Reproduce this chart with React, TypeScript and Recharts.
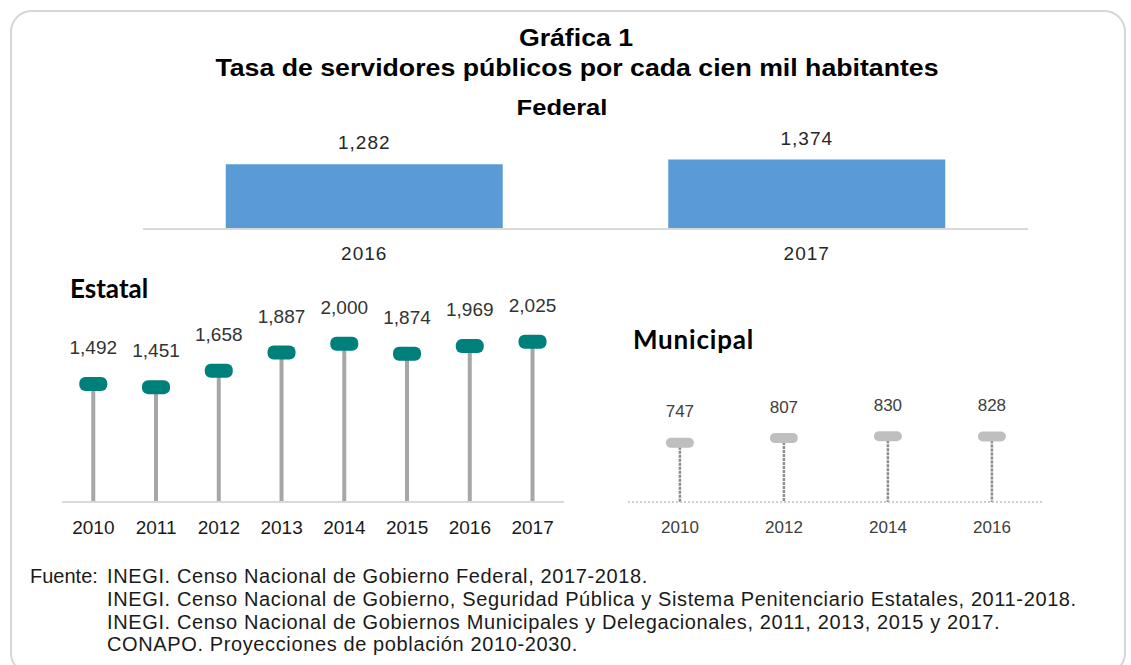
import React from 'react';
import { BarChart, Bar, XAxis, YAxis, LabelList } from 'recharts';

// Federal
const federalYears = ['2016', '2017'];
const federalValues = [1282, 1374];

// Estatal
const estatalYears = ['2010', '2011', '2012', '2013', '2014', '2015', '2016', '2017'];
const estatalValues = [1492, 1451, 1658, 1887, 2000, 1874, 1969, 2025];

// Municipal
const municipalYears = ['2010', '2012', '2014', '2016'];
const municipalValues = [747, 807, 830, 828];

const fuente = [
  'INEGI. Censo Nacional de Gobierno Federal, 2017-2018.',
  'INEGI. Censo Nacional de Gobierno, Seguridad Pública y Sistema Penitenciario Estatales, 2011-2018.',
  'INEGI. Censo Nacional de Gobiernos Municipales y Delegacionales, 2011, 2013, 2015 y 2017.',
  'CONAPO. Proyecciones de población 2010-2030.',
];

const federalData = federalYears.map((year, i) => ({ year, value: federalValues[i] }));
const estatalData = estatalYears.map((year, i) => ({ year, value: estatalValues[i] }));
const municipalData = municipalYears.map((year, i) => ({ year, value: municipalValues[i] }));

const ARIAL = '"Liberation Sans", Arial, sans-serif';
const fmt = (v: number) => v.toLocaleString('en-US');

const EstatalShape = (props: any) => {
  const { x, y, width, height } = props;
  const cx = x + width / 2;
  return (
    <g>
      <line x1={cx} y1={y} x2={cx} y2={y + height} stroke="#a6a6a6" strokeWidth={4} />
      <rect x={cx - 14} y={y - 7} width={28} height={14} rx={6} fill="#00807a" />
    </g>
  );
};

const MunicipalShape = (props: any) => {
  const { x, y, width, height } = props;
  const cx = x + width / 2;
  return (
    <g>
      <line x1={cx} y1={y} x2={cx} y2={y + height} stroke="#8c8c8c" strokeWidth={2.5} strokeDasharray="3 1" />
      <rect x={cx - 14} y={y - 5} width={28} height={10} rx={5} fill="#bfbfbf" />
    </g>
  );
};

const makeLabel = (offset: number, size: number, color: string, spacing = 0) => (props: any) => {
  const { x, y, width, value } = props;
  return (
    <text x={x + width / 2} y={y - offset} textAnchor="middle" dominantBaseline="middle"
      fontSize={size} fill={color} fontFamily={ARIAL} letterSpacing={spacing}>
      {fmt(value)}
    </text>
  );
};

const heading: React.CSSProperties = {
  position: 'absolute', fontFamily: ARIAL, fontWeight: 'bold', color: '#000', whiteSpace: 'nowrap', lineHeight: 1,
};

const stretched = (text: string, top: number, size: number, cx: number) => (
  <div style={{ ...heading, left: cx - 500, width: 1000, top, fontSize: size, textAlign: 'center', transform: 'scaleX(1.16)', transformOrigin: `500px 0` }}>
    {text}
  </div>
);

export default function App() {
  return (
    <div style={{ position: 'absolute', left: 0, top: 0, width: 1131, height: 665, background: '#fff', overflow: 'hidden' }}>
      <div style={{ position: 'absolute', left: 10, top: 10, width: 1116, height: 665, border: '2px solid #d6d6d6', borderRadius: 22, boxSizing: 'border-box' }} />

      {stretched('Gráfica 1', 27, 23, 576)}
      {stretched('Tasa de servidores públicos por cada cien mil habitantes', 57, 23, 577)}
      {stretched('Federal', 97, 22, 562)}

      <div style={{ position: 'absolute', left: 143, top: 128 }}>
        <BarChart width={885} height={142} data={federalData} margin={{ top: 0, right: 0, bottom: 0, left: 0 }} barCategoryGap="18.7%">
          <XAxis dataKey="year" height={41} axisLine={{ stroke: '#d9d9d9', strokeWidth: 2 }} tickLine={false}
            tick={{ fontSize: 19, fill: '#262626', fontFamily: ARIAL, letterSpacing: 1 }} tickMargin={12} />
          <YAxis hide domain={[0, 2000]} />
          <Bar dataKey="value" fill="#5b9bd5" isAnimationActive={false}>
            <LabelList dataKey="value" content={makeLabel(20, 19, '#262626', 1)} />
          </Bar>
        </BarChart>
      </div>

      <div style={{ ...heading, left: 70, top: 275, fontSize: 26, fontFamily: 'Lato, sans-serif' }}>Estatal</div>
      <div style={{ position: 'absolute', left: 62, top: 280 }}>
        <BarChart width={502} height={262} data={estatalData} margin={{ top: 32, right: 0, bottom: 0, left: 0 }}>
          <XAxis dataKey="year" height={40} axisLine={{ stroke: '#d9d9d9', strokeWidth: 2 }} tickLine={false}
            tick={{ fontSize: 19, fill: '#1a1a1a', fontFamily: ARIAL }} tickMargin={13} />
          <YAxis hide domain={[0, 2400]} />
          <Bar dataKey="value" shape={EstatalShape} isAnimationActive={false}>
            <LabelList dataKey="value" content={makeLabel(35, 19, '#333333')} />
          </Bar>
        </BarChart>
      </div>

      <div style={{ ...heading, left: 633, top: 326, fontSize: 26, letterSpacing: 0.8, fontFamily: 'Lato, sans-serif' }}>Municipal</div>
      <div style={{ position: 'absolute', left: 628, top: 300 }}>
        <BarChart width={416} height={242} data={municipalData} margin={{ top: 12, right: 0, bottom: 0, left: 0 }}>
          <XAxis dataKey="year" height={40} axisLine={{ stroke: '#bfbfbf', strokeWidth: 1.5, strokeDasharray: '2 2' }} tickLine={false}
            tick={{ fontSize: 17, fill: '#404040', fontFamily: ARIAL }} tickMargin={13} />
          <YAxis hide domain={[0, 2400]} />
          <Bar dataKey="value" shape={MunicipalShape} isAnimationActive={false}>
            <LabelList dataKey="value" content={makeLabel(30, 17, '#404040')} />
          </Bar>
        </BarChart>
      </div>

      <div style={{ position: 'absolute', left: 30, top: 565, fontFamily: ARIAL, fontSize: 20, color: '#1a1a1a', lineHeight: '22.8px', whiteSpace: 'nowrap', letterSpacing: 0.62 }}>
        {fuente.map((line, i) => (
          <div key={i} style={{ display: 'flex', height: 22.8 }}>
            <span style={{ width: 77, display: 'inline-block', flexShrink: 0, letterSpacing: 0 }}>{i === 0 ? 'Fuente:' : ''}</span>
            <span>{line}</span>
          </div>
        ))}
      </div>
    </div>
  );
}
